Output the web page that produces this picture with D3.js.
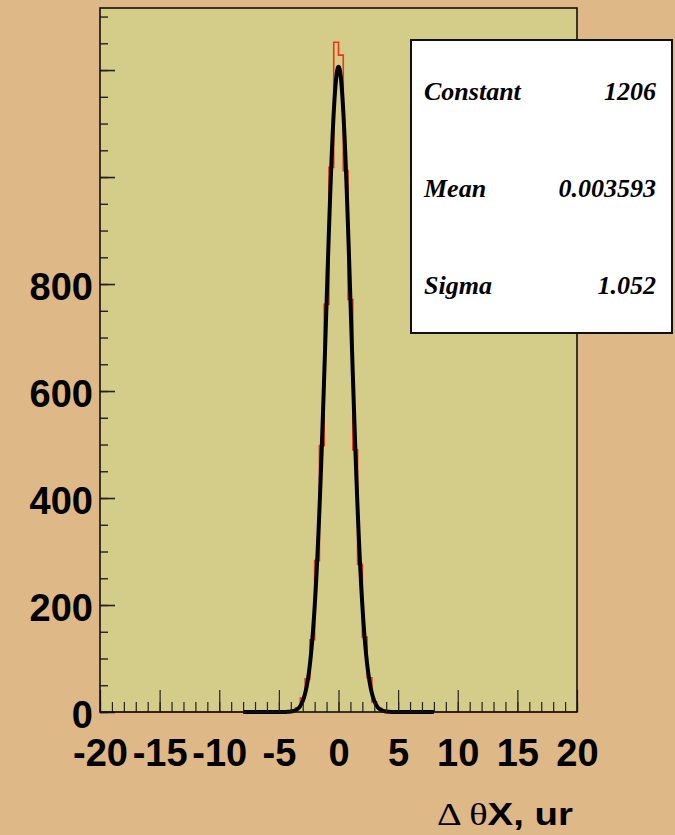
<!DOCTYPE html>
<html>
<head>
<meta charset="utf-8">
<script src="https://cdn.jsdelivr.net/npm/d3@7"></script>
<style>
  html, body { margin: 0; padding: 0; background: #deb887; }
  svg { display: block; }
</style>
</head>
<body>
<svg id="chart" width="675" height="835"></svg>
<script>
// Histogram of Δθ_X (ur), 0.4-wide bins, with a Gaussian fit
const xDomain = [-20, 20];
const yDomain = [0, 1316];
const binWidth = 0.4;
const binLow = -4.8;            // left edge of the first filled bin
const counts = [1, 1, 3, 8, 26, 62, 135, 283, 498, 762, 1018, 1252,
                1228, 1012, 771, 490, 276, 140, 64, 19, 7, 2, 1];

const xTicksMajor = [-20, -15, -10, -5, 0, 5, 10, 15, 20];
const xTickLabels = ["-20", "-15", "-10", "-5", "0", "5", "10", "15", "20"];
const xTicksMinor = d3.range(-20, 20.001, 1);
const yTicksMajor = [0, 200, 400, 600, 800, 1000, 1200];
const yTickLabels = ["0", "200", "400", "600", "800", "", ""];
const yTicksMinor = d3.range(0, 1316, 50);

// Fit parameters
const fitNames = ["Constant", "Mean", "Sigma"];
const fitValues = ["1206", "0.003593", "1.052"];
const fitConstant = 1206, fitMean = 0.003593, fitSigma = 1.052;
const fitRange = [-8, 8];

const svg = d3.select("#chart");
const L = 100, R = 577, T = 8, B = 712;

const x = d3.scaleLinear().domain(xDomain).range([L, R]);
const y = d3.scaleLinear().domain(yDomain).range([B, T]);

// canvas and frame
svg.append("rect").attr("width", 675).attr("height", 835).attr("fill", "#deb887");
svg.append("rect").attr("x", L).attr("y", T).attr("width", R - L).attr("height", B - T)
  .attr("fill", "#d3cd89");

// histogram (step outline)
const pts = [[xDomain[0], 0]];
counts.forEach((c, i) => pts.push([binLow + i * binWidth, c]));
pts.push([binLow + counts.length * binWidth, 0]);
pts.push([xDomain[1], 0]);
svg.append("path")
  .attr("d", d3.line().x(d => x(d[0])).y(d => y(d[1])).curve(d3.curveStepAfter)(pts))
  .attr("fill", "none").attr("stroke", "#f0331c").attr("stroke-width", 1.6);

// fitted Gaussian
const gauss = v => fitConstant * Math.exp(-0.5 * Math.pow((v - fitMean) / fitSigma, 2));
const fx = d3.range(fitRange[0], fitRange[1] + 1e-9, 0.02);
svg.append("path")
  .attr("d", d3.line().x(v => x(v)).y(v => y(gauss(v)))(fx))
  .attr("fill", "none").attr("stroke", "#000").attr("stroke-width", 4)
  .attr("stroke-linejoin", "round");

// axes
const axisFont = "'Liberation Sans', Arial, Helvetica, sans-serif";

const gx = svg.append("g").attr("transform", `translate(0,${B})`);
gx.call(d3.axisBottom(x).tickValues(xTicksMinor).tickSize(-10).tickFormat(""));
gx.call(g => g.select(".domain").remove());
const gx2 = svg.append("g").attr("transform", `translate(0,${B})`);
gx2.call(d3.axisBottom(x).tickValues(xTicksMajor).tickSizeInner(-22).tickSizeOuter(0)
  .tickPadding(27).tickFormat((d, i) => xTickLabels[i]));
gx2.select(".domain").remove();
gx.selectAll("line").attr("stroke", "#222").attr("stroke-width", 1.2);
gx2.selectAll("line").attr("stroke", "#222").attr("stroke-width", 1.2);
gx2.selectAll("text").attr("font-family", axisFont).attr("font-weight", "bold")
  .attr("font-size", 38).attr("fill", "#000");

const gy = svg.append("g").attr("transform", `translate(${L},0)`);
gy.call(d3.axisLeft(y).tickValues(yTicksMinor).tickSize(-8).tickFormat(""));
gy.select(".domain").remove();
const gy2 = svg.append("g").attr("transform", `translate(${L},0)`);
gy2.call(d3.axisLeft(y).tickValues(yTicksMajor).tickSizeInner(-15).tickSizeOuter(0)
  .tickPadding(7).tickFormat((d, i) => yTickLabels[i]));
gy2.select(".domain").remove();
gy.selectAll("line").attr("stroke", "#222").attr("stroke-width", 1.4);
gy2.selectAll("line").attr("stroke", "#222").attr("stroke-width", 1.6);
gy2.selectAll("text").attr("font-family", axisFont).attr("font-weight", "bold")
  .attr("font-size", 38).attr("fill", "#000").attr("dy", "0.4em");

// frame
svg.append("rect").attr("x", L).attr("y", T).attr("width", R - L).attr("height", B - T)
  .attr("fill", "none").attr("stroke", "#111").attr("stroke-width", 1.6);

// axis title, slightly stretched horizontally
const title = svg.append("text").attr("text-anchor", "end")
  .attr("transform", "translate(573,825) scale(1.24,1)")
  .attr("font-size", 31).attr("fill", "#000");
title.append("tspan").attr("font-family", "'Liberation Serif', 'Times New Roman', serif").text("Δ θ");
title.append("tspan").attr("font-family", axisFont).attr("font-weight", "bold").text("X, ur");

// fit statistics box
const box = svg.append("g");
box.append("rect").attr("x", 411).attr("y", 40).attr("width", 261).attr("height", 293)
  .attr("fill", "#fff").attr("stroke", "#111").attr("stroke-width", 2);
const statFont = "'Liberation Serif', 'Times New Roman', serif";
const baselines = [100, 197, 294];
fitNames.forEach((n, i) => {
  box.append("text").attr("x", 424).attr("y", baselines[i])
    .attr("font-family", statFont).attr("font-style", "italic").attr("font-weight", "bold")
    .attr("font-size", 26).attr("fill", "#000").text(n);
  box.append("text").attr("x", 656).attr("y", baselines[i]).attr("text-anchor", "end")
    .attr("font-family", statFont).attr("font-style", "italic").attr("font-weight", "bold")
    .attr("font-size", 26).attr("fill", "#000").text(fitValues[i]);
});
</script>
</body>
</html>
